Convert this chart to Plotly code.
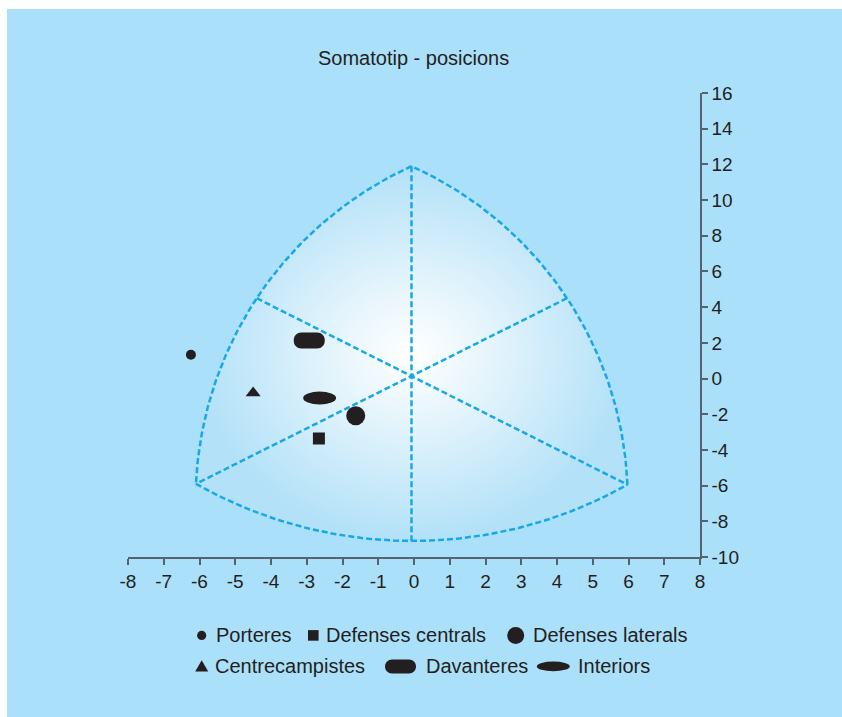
import numpy as np
import plotly.graph_objects as go

# ---------------- data ----------------
positions = ["Porteres", "Defenses centrals", "Defenses laterals",
             "Centrecampistes", "Davanteres", "Interiors"]
x_vals = [-6.24, -2.66, -1.63, -4.50, -2.93, -2.64]
y_vals = [1.33, -3.36, -2.08, -0.81, 2.13, -1.09]

x_ticks = list(range(-8, 9))
y_ticks = list(range(-10, 17, 2))

# somatochart reference geometry (data units)
apex_top = (-0.07, 11.9)
apex_left = (-6.1, -5.9)
apex_right = (5.97, -5.95)
arc_left_mid = (-4.4, 4.5)
arc_right_mid = (4.28, 4.5)
arc_bottom_mid = (-0.07, -9.1)

BG = "#abe0fa"
LINE_BLUE = "#17a8e8"
INK = "#231f20"
AXIS = "#56636b"
FONT = "Liberation Sans"


def arc(p1, pm, p2, n=90, ys=0.5):
    a = np.array([p1[0], p1[1] * ys])
    b = np.array([pm[0], pm[1] * ys])
    c = np.array([p2[0], p2[1] * ys])
    d = 2 * (a[0] * (b[1] - c[1]) + b[0] * (c[1] - a[1]) + c[0] * (a[1] - b[1]))
    ux = ((a @ a) * (b[1] - c[1]) + (b @ b) * (c[1] - a[1]) + (c @ c) * (a[1] - b[1])) / d
    uy = ((a @ a) * (c[0] - b[0]) + (b @ b) * (a[0] - c[0]) + (c @ c) * (b[0] - a[0])) / d
    r = np.hypot(a[0] - ux, a[1] - uy)
    t1 = np.arctan2(a[1] - uy, a[0] - ux)
    tm = np.arctan2(b[1] - uy, b[0] - ux)
    t2 = np.arctan2(c[1] - uy, c[0] - ux)
    tau = 2 * np.pi
    t2p = t1 + ((t2 - t1) % tau)
    tmp = t1 + ((tm - t1) % tau)
    if tmp > t2p:
        t2p -= tau
    t = np.linspace(t1, t2p, n)
    return ux + r * np.cos(t), (uy + r * np.sin(t)) / ys


lx, ly = arc(apex_top, arc_left_mid, apex_left)
bx, by = arc(apex_left, arc_bottom_mid, apex_right)
rx, ry = arc(apex_right, arc_right_mid, apex_top)

fig = go.Figure()

# gradient filled chart area
fig.add_trace(go.Scatter(
    x=np.concatenate([lx, bx, rx]), y=np.concatenate([ly, by, ry]),
    mode="lines", fill="toself", line=dict(width=0),
    fillcolor="rgba(255,255,255,0.5)",
    fillgradient=dict(type="radial",
                      colorscale=[[0, "#ffffff"], [0.35, "#e6f5fc"], [1, "#b2e1f8"]]),
    hoverinfo="skip", showlegend=False))

dash_line = dict(color=LINE_BLUE, width=2.5, dash="6px,3px")
for xs, ys_ in [(lx, ly), (bx, by), (rx, ry),
                ([apex_top[0], arc_bottom_mid[0]], [apex_top[1], arc_bottom_mid[1]]),
                ([arc_left_mid[0], apex_right[0]], [arc_left_mid[1], apex_right[1]]),
                ([arc_right_mid[0], apex_left[0]], [arc_right_mid[1], apex_left[1]])]:
    fig.add_trace(go.Scatter(x=list(xs), y=list(ys_), mode="lines", line=dash_line,
                             hoverinfo="skip", showlegend=False))

# standard marker symbols
std_symbols = {"Porteres": ("circle", 10), "Defenses centrals": ("square", 12),
               "Defenses laterals": ("circle", 19), "Centrecampistes": ("triangle-up", 13)}
for name, xv, yv in zip(positions, x_vals, y_vals):
    if name in std_symbols:
        sym, sz = std_symbols[name]
        fig.add_trace(go.Scatter(x=[xv], y=[yv], mode="markers", name=name,
                                 marker=dict(symbol=sym, size=sz, color=INK,
                                             line=dict(width=0)),
                                 showlegend=False))


def pill_path(w, h, r):
    k = 0.5523 * r
    x0, x1, y0, y1 = -w / 2, w / 2, -h / 2, h / 2
    return (f"M{x0 + r},{y1} L{x1 - r},{y1} "
            f"C{x1 - r + k},{y1} {x1},{y1 - r + k} {x1},{y1 - r} "
            f"L{x1},{y0 + r} "
            f"C{x1},{y0 + r - k} {x1 - r + k},{y0} {x1 - r},{y0} "
            f"L{x0 + r},{y0} "
            f"C{x0 + r - k},{y0} {x0},{y0 + r - k} {x0},{y0 + r} "
            f"L{x0},{y1 - r} "
            f"C{x0},{y1 - r + k} {x0 + r - k},{y1} {x0 + r},{y1} Z")


shapes = []
for name, xv, yv in zip(positions, x_vals, y_vals):
    if name == "Davanteres":
        shapes.append(dict(type="path", xref="x", yref="y", xsizemode="pixel",
                           ysizemode="pixel", xanchor=xv, yanchor=yv,
                           path=pill_path(31, 16, 7.5), fillcolor=INK,
                           line=dict(width=0)))
    if name == "Interiors":
        shapes.append(dict(type="circle", xref="x", yref="y", xsizemode="pixel",
                           ysizemode="pixel", xanchor=xv, yanchor=yv,
                           x0=-16.5, x1=16.5, y0=-6.4, y1=6.4, fillcolor=INK,
                           line=dict(width=0)))

# ---------------- manual legend ----------------
def px2paper(px, py):
    return (px - 128) / 572.0, (557.3 - py) / 464.0


annotations = []
legend_items = [
    # name, symbol kind, symbol center x, text start x, row y
    ("Porteres", "dot", 201.7, 214.0, 635.7),
    ("Defenses centrals", "square", 313.3, 324.0, 635.7),
    ("Defenses laterals", "bigdot", 515.7, 531.0, 635.7),
    ("Centrecampistes", "triangle", 201.7, 213.3, 666.7),
    ("Davanteres", "pill", 400.5, 424.0, 666.7),
    ("Interiors", "ellipse", 553.3, 575.7, 666.7),
]
for name, kind, sx, tx, ry_ in legend_items:
    xa, ya = px2paper(sx, ry_)
    base = dict(xref="paper", yref="paper", xsizemode="pixel", ysizemode="pixel",
                xanchor=xa, yanchor=ya, fillcolor=INK, line=dict(width=0))
    if kind == "dot":
        shapes.append(dict(type="circle", x0=-4.6, x1=4.6, y0=-4.6, y1=4.6, **base))
    elif kind == "bigdot":
        shapes.append(dict(type="circle", x0=-8.5, x1=8.5, y0=-8.5, y1=8.5, **base))
    elif kind == "square":
        shapes.append(dict(type="rect", x0=-5.3, x1=5.3, y0=-5.3, y1=5.3, **base))
    elif kind == "triangle":
        shapes.append(dict(type="path", path="M-6.5,-5.2 L6.5,-5.2 L0,6.2 Z", **base))
    elif kind == "pill":
        shapes.append(dict(type="path", path=pill_path(31, 14, 7), **base))
    elif kind == "ellipse":
        shapes.append(dict(type="circle", x0=-16.5, x1=16.5, y0=-4.8, y1=4.8, **base))
    txp, typ = px2paper(tx, ry_)
    annotations.append(dict(text=name, xref="paper", yref="paper", x=txp, y=typ,
                            xanchor="left", yanchor="middle", showarrow=False,
                            font=dict(family=FONT, size=20, color=INK)))

tx_, ty_ = px2paper(413, 58)
annotations.append(dict(text="Somatotip - posicions", xref="paper", yref="paper",
                        x=tx_, y=ty_, xanchor="center", yanchor="middle",
                        showarrow=False, font=dict(family=FONT, size=20, color=INK)))

fig.update_layout(
    width=842, height=717,
    margin=dict(l=121, r=149, t=84, b=169, pad=0),
    paper_bgcolor=BG, plot_bgcolor="rgba(0,0,0,0)",
    showlegend=False,
    shapes=shapes, annotations=annotations,
    font=dict(family=FONT, size=19, color=INK),
    xaxis=dict(range=[-8, 8], tickmode="array", tickvals=x_ticks,
               ticktext=[str(v) for v in x_ticks],
               showgrid=False, zeroline=False, showline=True, linecolor=AXIS,
               linewidth=1.5, ticks="outside", ticklen=6, tickwidth=1.5,
               tickcolor=AXIS, tickfont=dict(family=FONT, size=19, color=INK),
               fixedrange=True),
    yaxis=dict(range=[-10, 16], tickmode="array", tickvals=y_ticks,
               ticktext=[str(v) for v in y_ticks], side="right",
               showgrid=False, zeroline=False, showline=True, linecolor=AXIS,
               linewidth=1.5, ticks="outside", ticklen=6, tickwidth=1.5,
               tickcolor=AXIS, tickfont=dict(family=FONT, size=19, color=INK),
               fixedrange=True),
)

page_js = (
    "document.documentElement.style.overflow='hidden';"
    "document.body.style.overflow='hidden';"
    "document.body.style.margin='9px 0 0 7px';"
    "document.documentElement.style.background="
    "'linear-gradient(to right, #ffffff 7px, rgba(255,255,255,0) 7px), "
    "linear-gradient(to bottom, #ffffff 9px, " + BG + " 9px)';"
)

fig.write_html("out.html", post_script=page_js)
